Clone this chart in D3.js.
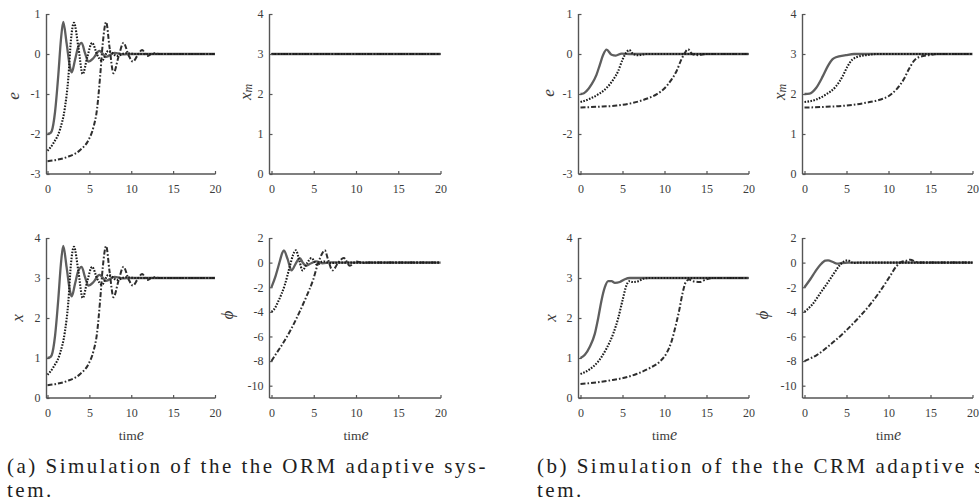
<!DOCTYPE html>
<html><head><meta charset="utf-8">
<script src="https://cdn.jsdelivr.net/npm/d3@7"></script>
<style>body{margin:0;background:#fff;} svg{display:block;}</style>
</head><body>
<svg id="c" width="979" height="504"></svg>
<script>
// ---------- tick labels ----------
const timeTicks = [0, 5, 10, 15, 20];
const eTicks = [-3, -2, -1, 0, 1];
const stateTicks = [0, 1, 2, 3, 4];
const phiTicks = [-10, -8, -6, -4, -2, 0, 2];

// ---------- (a) ORM adaptive system ----------
const ormE_solid = [[0,-2],[0.3,-1.98],[0.5,-1.93],[0.9,-1.45],[1.3,-0.5],[1.6,0.35],[1.88,0.8],[2.28,0.27],[2.68,-0.32],[2.9,-0.46],[3.28,-0.15],[3.68,0.18],[4.08,0.28],[4.48,0.02],[4.9,-0.19],[5.5,-0.1],[6.2,0.08],[7.0,-0.07],[8.0,0.03],[9,-0.01],[10,0],[20,0]];
const ormE_dotted = [[0,-2.42],[0.7,-2.23],[1.5,-1.88],[2.08,-1.34],[2.48,-0.62],[2.8,0.35],[3.16,0.78],[3.68,0.18],[4.2,-0.5],[4.76,-0.07],[5.32,0.28],[5.96,-0.03],[6.48,-0.17],[7.28,0.08],[8.3,-0.05],[9.3,0.02],[10.5,0],[20,0]];
const ormE_dashdot = [[0,-2.68],[1,-2.65],[2.3,-2.58],[3.9,-2.4],[4.9,-2.15],[5.5,-1.82],[5.9,-1.4],[6.28,-0.57],[6.6,0.27],[7.0,0.8],[7.4,0.18],[7.88,-0.48],[8.48,-0.07],[9.08,0.28],[9.68,-0.03],[10.2,-0.19],[10.76,-0.03],[11.3,0.1],[11.9,-0.05],[12.6,0.02],[13.5,0],[20,0]];

const ormXm_solid = [[0,3],[20,3]];
const ormXm_dotted = [[0,3],[20,3]];
const ormXm_dashdot = [[0,3],[20,3]];

const ormX_solid = [[0,1],[0.3,1.02],[0.5,1.07],[0.9,1.55],[1.3,2.5],[1.6,3.35],[1.88,3.8],[2.28,3.27],[2.68,2.68],[2.9,2.54],[3.28,2.85],[3.68,3.18],[4.08,3.28],[4.48,3.02],[4.9,2.81],[5.5,2.9],[6.2,3.08],[7.0,2.93],[8.0,3.03],[9,2.99],[10,3],[20,3]];
const ormX_dotted = [[0,0.58],[0.7,0.77],[1.5,1.12],[2.08,1.66],[2.48,2.38],[2.8,3.35],[3.16,3.78],[3.68,3.18],[4.2,2.5],[4.76,2.93],[5.32,3.28],[5.96,2.97],[6.48,2.83],[7.28,3.08],[8.3,2.95],[9.3,3.02],[10.5,3],[20,3]];
const ormX_dashdot = [[0,0.32],[1,0.35],[2.3,0.42],[3.9,0.6],[4.9,0.85],[5.5,1.18],[5.9,1.6],[6.28,2.43],[6.6,3.27],[7.0,3.8],[7.4,3.18],[7.88,2.52],[8.48,2.93],[9.08,3.28],[9.68,2.97],[10.2,2.81],[10.76,2.97],[11.3,3.1],[11.9,2.95],[12.6,3.02],[13.5,3],[20,3]];

const ormPhi_solid = [[0,-2],[0.5,-1.05],[1.0,0.15],[1.25,0.75],[1.46,1.0],[1.9,0.3],[2.37,-0.63],[2.85,-0.1],[3.35,0.37],[3.7,0.0],[4.06,-0.25],[4.7,-0.05],[5.3,0.1],[6.0,-0.05],[7,0.02],[8,0],[20,0]];
const ormPhi_dotted = [[0,-4],[0.4,-3.7],[0.8,-3.15],[1.58,-1.8],[2.17,-0.3],[2.56,0.64],[2.88,1.0],[3.27,0.24],[3.67,-0.63],[4.22,-0.03],[4.73,0.37],[5.4,-0.17],[6.1,0.1],[7,-0.03],[8,0],[20,0]];
const ormPhi_dashdot = [[0,-8],[0.5,-7.45],[1,-6.94],[2.17,-5.6],[3.35,-3.96],[4.14,-2.74],[4.93,-1.39],[5.52,-0.03],[5.92,0.64],[6.31,1.0],[6.7,0.24],[7.22,-0.63],[7.9,0.0],[8.56,0.37],[9.27,-0.25],[10.06,0.1],[10.8,-0.03],[11.5,0],[20,0]];

// ---------- (b) CRM adaptive system ----------
const crmE_solid = [[0,-1],[0.4,-0.98],[0.71,-0.93],[1.31,-0.76],[1.9,-0.52],[2.3,-0.27],[2.7,-0.02],[3.1,0.11],[3.7,-0.02],[4.2,-0.04],[4.9,0.01],[6,0],[20,0]];
const crmE_dotted = [[0,-1.2],[1.1,-1.12],[2.1,-1.01],[3.1,-0.85],[3.9,-0.64],[4.48,-0.43],[5.0,-0.14],[5.4,0.02],[5.8,0.1],[6.27,0.0],[6.87,-0.03],[7.8,0],[20,0]];
const crmE_dashdot = [[0,-1.34],[1.9,-1.32],[4.3,-1.29],[6.3,-1.22],[7.86,-1.12],[9.05,-1.01],[10.04,-0.85],[10.83,-0.64],[11.43,-0.43],[12.0,-0.14],[12.4,0.02],[12.8,0.12],[13.3,0.0],[14,-0.03],[15,0],[20,0]];

const crmXm_solid = [[0,2],[0.6,2.01],[1.38,2.15],[2.17,2.44],[2.76,2.69],[3.35,2.87],[3.74,2.92],[4.92,2.97],[5.9,3.0],[20,3]];
const crmXm_dotted = [[0,1.8],[1.38,1.86],[2.56,1.99],[3.74,2.19],[4.53,2.44],[5.12,2.69],[5.7,2.86],[6.5,2.94],[7.68,2.98],[8.5,3],[20,3]];
const crmXm_dashdot = [[0,1.66],[2.56,1.68],[4.92,1.71],[7.28,1.78],[8.86,1.85],[10.04,1.95],[11.0,2.13],[11.8,2.36],[12.4,2.61],[13.0,2.82],[13.6,2.92],[14.8,2.97],[15.9,3.0],[20,3]];

const crmX_solid = [[0,1],[0.52,1.08],[1.11,1.28],[1.71,1.61],[2.1,1.99],[2.5,2.44],[2.9,2.77],[3.3,2.92],[3.7,2.92],[4.09,2.88],[4.68,2.9],[5.28,2.97],[5.87,3.0],[20,3]];
const crmX_dotted = [[0,0.6],[1.11,0.72],[2.1,0.91],[3.1,1.24],[3.9,1.61],[4.48,1.99],[5.0,2.44],[5.48,2.82],[5.8,2.92],[6.27,2.9],[6.87,2.92],[7.46,2.98],[8.2,3],[20,3]];
const crmX_dashdot = [[0,0.35],[1.9,0.39],[3.5,0.44],[5.08,0.5],[6.67,0.6],[8.25,0.75],[9.44,0.91],[10.24,1.12],[10.83,1.41],[11.3,1.78],[11.75,2.19],[12.14,2.61],[12.54,2.9],[12.94,2.96],[13.4,2.92],[14.2,2.9],[15,2.97],[15.8,3.0],[20,3]];

const crmPhi_solid = [[0,-2],[0.71,-1.33],[1.3,-0.71],[1.89,-0.17],[2.48,0.16],[2.8,0.18],[3.39,0.05],[3.86,-0.08],[4.45,-0.03],[5.2,0],[20,0]];
const crmPhi_dotted = [[0,-4],[0.9,-3.42],[1.89,-2.47],[2.87,-1.52],[3.66,-0.71],[4.25,-0.17],[4.72,0.1],[5.12,0.18],[5.83,-0.03],[6.6,0],[20,0]];
const crmPhi_dashdot = [[0,-8],[1.5,-7.49],[3.07,-6.67],[4.65,-5.72],[6.22,-4.64],[7.8,-3.42],[8.98,-2.34],[10.16,-1.12],[10.94,-0.3],[11.54,0.05],[12.13,0.15],[12.6,0.24],[13.3,0.05],[14.1,0],[20,0]];

const captionA = "(a) Simulation of the the ORM adaptive sys-";
const captionB = "(b) Simulation of the the CRM adaptive sys-";
const captionTail = "tem.";

// ---------- layout ----------
const colL = [{ax:46.5, x0:47.5, x1:215}, {ax:269.5, x0:271.5, x1:440.5}, {ax:578.5, x0:580.5, x1:748.5}, {ax:802.5, x0:804.5, x1:972.5}];
const rowT = {yTop:14, yBot:174};
const rowB = {yTop:238, yBot:398};

const styles = {
  solid:   {stroke:'#5e5e5e', width:2.3, dash:null},
  dashdot: {stroke:'#2e2e2e', width:2.0, dash:'5,2,1.6,2'},
  dotted:  {stroke:'#1c1c1c', width:2.1, dash:'1.6,1.4'}
};

const panels = [
  {col:0,row:rowT,dom:[-3,1],ticks:eTicks,label:'e',lx:13,ly:96,series:{solid:ormE_solid,dotted:ormE_dotted,dashdot:ormE_dashdot}},
  {col:1,row:rowT,dom:[0,4],ticks:stateTicks,label:'xm',lx:245,ly:92,series:{solid:ormXm_solid,dotted:ormXm_dotted,dashdot:ormXm_dashdot}},
  {col:0,row:rowB,dom:[0,4],ticks:stateTicks,label:'x',lx:17,ly:318,xlabel:true,series:{solid:ormX_solid,dotted:ormX_dotted,dashdot:ormX_dashdot}},
  {col:1,row:rowB,dom:[-11,2],ticks:phiTicks,label:'phi',lx:227,ly:315,xlabel:true,series:{solid:ormPhi_solid,dotted:ormPhi_dotted,dashdot:ormPhi_dashdot}},
  {col:2,row:rowT,dom:[-3,1],ticks:eTicks,label:'e',lx:548,ly:93,series:{solid:crmE_solid,dotted:crmE_dotted,dashdot:crmE_dashdot}},
  {col:3,row:rowT,dom:[0,4],ticks:stateTicks,label:'xm',lx:779,ly:92,series:{solid:crmXm_solid,dotted:crmXm_dotted,dashdot:crmXm_dashdot}},
  {col:2,row:rowB,dom:[0,4],ticks:stateTicks,label:'x',lx:550,ly:318,xlabel:true,series:{solid:crmX_solid,dotted:crmX_dotted,dashdot:crmX_dashdot}},
  {col:3,row:rowB,dom:[-11,2],ticks:phiTicks,label:'phi',lx:762,ly:315,xlabel:true,series:{solid:crmPhi_solid,dotted:crmPhi_dotted,dashdot:crmPhi_dashdot}}
];

const svg = d3.select('#c');
const axisColor = '#555';
const textColor = '#3c3c3c';
const serif = '"Liberation Serif", "Times New Roman", serif';

panels.forEach(p => {
  const c = colL[p.col];
  const x = d3.scaleLinear().domain([0,20]).range([c.x0, c.x1]);
  const y = d3.scaleLinear().domain(p.dom).range([p.row.yBot, p.row.yTop]);
  const g = svg.append('g');

  const line = d3.line().x(d => x(d[0])).y(d => y(d[1])).curve(d3.curveMonotoneX);
  ['solid','dashdot','dotted'].forEach(k => {
    const s = styles[k];
    g.append('path').datum(p.series[k]).attr('d', line)
      .attr('fill','none').attr('stroke', s.stroke).attr('stroke-width', s.width)
      .attr('stroke-dasharray', s.dash).attr('stroke-linejoin','round');
  });

  const yAxis = d3.axisLeft(y).tickValues(p.ticks).tickSize(-3).tickPadding(6).tickFormat(d => String(d));
  const ga = g.append('g').attr('transform', `translate(${c.ax},0)`).call(yAxis);
  const xAxis = d3.axisBottom(x).tickValues(timeTicks).tickSize(-3).tickPadding(10).tickFormat(d => String(d));
  const gb = g.append('g').attr('transform', `translate(0,${p.row.yBot})`).call(xAxis);
  [ga, gb].forEach(a => {
    a.attr('font-family', null).attr('font-size', null);
    a.select('.domain').remove();
    a.selectAll('line').attr('stroke', axisColor).attr('stroke-width', 1.2);
    a.selectAll('text').attr('fill', textColor).style('font-family', serif).style('font-size', '12px');
  });
  g.append('line').attr('x1', c.ax).attr('x2', c.ax).attr('y1', p.row.yTop).attr('y2', p.row.yBot)
    .attr('stroke', axisColor).attr('stroke-width', 1.4);
  g.append('line').attr('x1', c.ax).attr('x2', c.x1 + 0.5).attr('y1', p.row.yBot).attr('y2', p.row.yBot)
    .attr('stroke', axisColor).attr('stroke-width', 1.4);

  const t = g.append('text').attr('transform', `translate(${p.lx},${p.ly}) rotate(-90)`)
    .attr('text-anchor','middle').attr('dominant-baseline','central')
    .attr('fill', textColor).style('font-family', serif).style('font-size', '17px').style('font-style','italic');
  if (p.label === 'xm') {
    t.append('tspan').text('x');
    t.append('tspan').attr('dy', 3).style('font-size', '12px').text('m');
  } else if (p.label === 'phi') {
    t.text('\u03D5');
  } else {
    t.text(p.label);
  }

  if (p.xlabel) {
    const xl = g.append('text').attr('x', (c.x0 + c.x1) / 2).attr('y', p.row.yBot + 42)
      .attr('text-anchor','middle').attr('fill', textColor)
      .style('font-family', serif).style('font-size', '13.5px');
    xl.append('tspan').text('tim');
    xl.append('tspan').style('font-style','italic').style('font-size', '16px').text('e');
  }
});

// captions: glyph spacing widened to match the reference line width
function caption(x0, txt, width) {
  const t1 = svg.append('text').attr('x', x0).attr('y', 473).attr('fill', '#1e1e1e')
    .style('font-family', serif).style('font-size', '21px').text(txt);
  const w = t1.node().getComputedTextLength();
  const ls = Math.max(0, (width - w) / txt.length);
  t1.attr('letter-spacing', ls);
  svg.append('text').attr('x', x0).attr('y', 497).attr('fill', '#1e1e1e')
    .style('font-family', serif).style('font-size', '21px').attr('letter-spacing', ls).text(captionTail);
}
caption(7, captionA, 481);
caption(537, captionB, 481);
</script>
</body></html>
